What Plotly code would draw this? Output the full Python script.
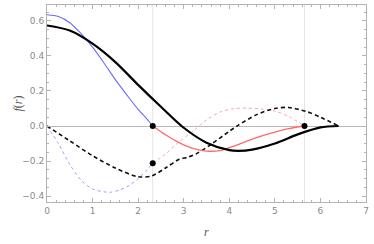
import plotly.graph_objects as go

# ---- data ----
blue_r = [0, 0.25, 0.5, 0.75, 1.0, 1.25, 1.5, 1.75, 2.0, 2.2, 2.32]
blue_f = [0.635, 0.625, 0.59, 0.527, 0.45, 0.36, 0.265, 0.178, 0.095, 0.038, 0.0]

blue_d_r = [0, 0.25, 0.5, 0.75, 1.0, 1.25, 1.4, 1.6, 1.8, 2.0, 2.2, 2.32]
blue_d_f = [0, -0.1, -0.22, -0.31, -0.36, -0.376, -0.378, -0.365, -0.34, -0.30, -0.25, -0.212]

red_r = [2.32, 2.6, 2.9, 3.2, 3.5, 3.8, 4.1, 4.4, 4.7, 5.0, 5.3, 5.65]
red_f = [0.0, -0.05, -0.095, -0.128, -0.143, -0.14, -0.115, -0.085, -0.058, -0.035, -0.015, 0.0]

red_d_r = [2.32, 2.6, 2.9, 3.2, 3.5, 3.8, 4.1, 4.4, 4.7, 5.0, 5.3, 5.65]
red_d_f = [-0.212, -0.16, -0.09, -0.03, 0.035, 0.08, 0.099, 0.102, 0.097, 0.085, 0.055, 0.0]

black_r = [0, 0.5, 1.0, 1.5, 2.0, 2.5, 3.0, 3.5, 4.0, 4.2, 4.5, 5.0, 5.5, 6.0, 6.4]
black_f = [0.574, 0.545, 0.47, 0.365, 0.235, 0.11, -0.01, -0.095, -0.138, -0.142, -0.135, -0.1, -0.048, -0.008, 0.0]

black_d_r = [0, 0.5, 1.0, 1.5, 2.0, 2.3, 2.6, 2.9, 3.1, 3.3, 3.6, 4.0, 4.2, 4.6, 5.0, 5.3, 5.7, 6.0, 6.4]
black_d_f = [0, -0.085, -0.17, -0.24, -0.29, -0.285, -0.24, -0.19, -0.178, -0.155, -0.105, -0.03, 0.005, 0.065, 0.1, 0.106, 0.082, 0.05, 0.0]

dot_r = [2.32, 2.32, 5.65]
dot_f = [0.0, -0.212, 0.0]
marker_r = [2.32, 5.65]

x_ticks = [0, 1, 2, 3, 4, 5, 6, 7]
y_ticks = [-0.4, -0.2, 0.0, 0.2, 0.4, 0.6]
x_title = "<i>r</i>"
y_title = "<i>f</i>(<i>r</i>)"

fig = go.Figure()

def add(r, f, color, width, dash="solid"):
    fig.add_trace(go.Scatter(x=r, y=f, mode="lines",
                             line=dict(color=color, width=width, dash=dash, shape="spline", smoothing=0.8),
                             hoverinfo="skip"))

add(blue_d_r, blue_d_f, "#9d9dff", 1, "3px,3px")
add(red_d_r, red_d_f, "#ffa3a3", 1, "3px,3px")
add(black_d_r, black_d_f, "#111111", 1.6, "4px,3px")
add(blue_r, blue_f, "#6b6bff", 1.1)
add(red_r, red_f, "#ff6b6b", 1.3)
add(black_r, black_f, "#000000", 2.2)

fig.add_trace(go.Scatter(x=dot_r, y=dot_f, mode="markers", marker=dict(color="black", size=6), hoverinfo="skip"))

for xr in marker_r:
    fig.add_vline(x=xr, line=dict(color="#e4e4e4", width=1), layer="below")

axis_common = dict(
    showline=True, linecolor="#b3b3b3", linewidth=1, mirror="ticks",
    ticks="inside", ticklen=4, tickcolor="#b3b3b3", tickwidth=1,
    showgrid=False, automargin=False,
    tickfont=dict(family="DejaVu Sans", size=9, color="#8a8a8a"),
)

fig.update_xaxes(
    range=[0, 7], tickvals=x_ticks, zeroline=False,
    minor=dict(ticks="inside", ticklen=2, dtick=0.2, tickcolor="#b3b3b3", showgrid=False),
    **axis_common,
)
fig.update_yaxes(
    range=[-0.434, 0.691], tickvals=y_ticks, tickformat=".1f",
    zeroline=True, zerolinecolor="#b8b8b8", zerolinewidth=1,
    minor=dict(ticks="inside", ticklen=2, dtick=0.05, tickcolor="#b3b3b3", showgrid=False),
    **axis_common,
)

title_font = dict(family="Liberation Serif", size=12, color="#555555")
fig.add_annotation(text=x_title, xref="paper", yref="paper", x=0.5, y=0,
                   xanchor="center", yanchor="middle", yshift=-30, showarrow=False, font=title_font)
fig.add_annotation(text=y_title, xref="paper", yref="paper", x=0, y=0.5,
                   xanchor="center", yanchor="middle", xshift=-30, textangle=-90, showarrow=False, font=title_font)

fig.update_layout(
    width=374, height=244,
    margin=dict(l=47, r=8, t=5, b=42),
    paper_bgcolor="white", plot_bgcolor="white",
    showlegend=False,
)

fig.write_html("out.html", config={"displayModeBar": False},
               post_script="document.body.style.margin='0px';")
